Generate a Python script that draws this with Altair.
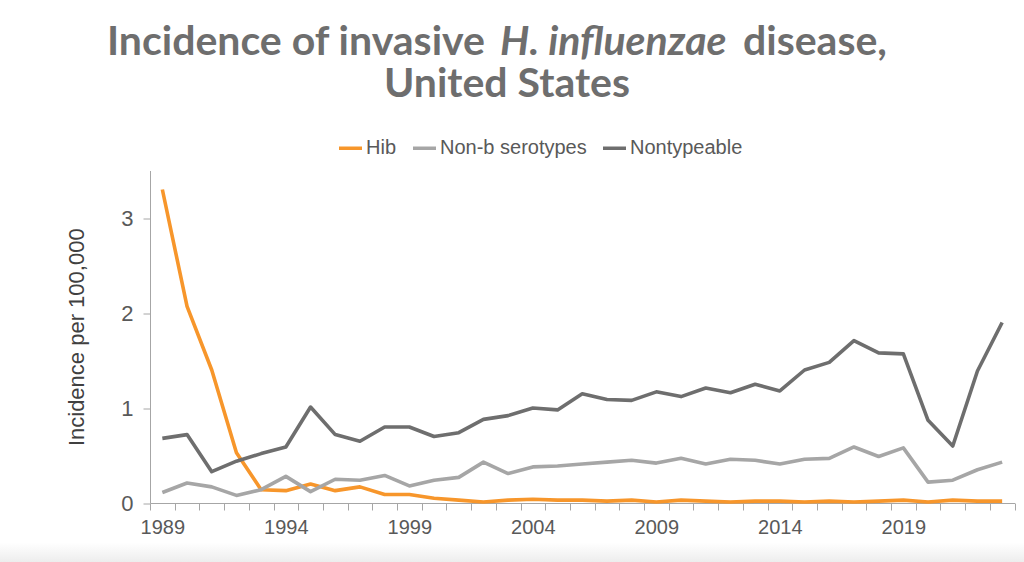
import altair as alt
import pandas as pd

# Incidence per 100,000, United States
years = list(range(1989, 2024))

hib = [3.30, 2.07, 1.40, 0.53, 0.14, 0.13, 0.20, 0.13, 0.17, 0.09,
       0.09, 0.05, 0.03, 0.01, 0.03, 0.04, 0.03, 0.03, 0.02, 0.03,
       0.01, 0.03, 0.02, 0.01, 0.02, 0.02, 0.01, 0.02, 0.01, 0.02,
       0.03, 0.01, 0.03, 0.02, 0.02]

non_b = [0.11, 0.21, 0.17, 0.08, 0.14, 0.28, 0.12, 0.25, 0.24, 0.29,
         0.18, 0.24, 0.27, 0.43, 0.31, 0.38, 0.39, 0.41, 0.43, 0.45,
         0.42, 0.47, 0.41, 0.46, 0.45, 0.41, 0.46, 0.47, 0.59, 0.49,
         0.58, 0.22, 0.24, 0.35, 0.43]

nontypeable = [0.68, 0.72, 0.33, 0.44, 0.52, 0.59, 1.01, 0.72, 0.65, 0.80,
               0.80, 0.70, 0.74, 0.88, 0.92, 1.00, 0.98, 1.15, 1.09, 1.08,
               1.17, 1.12, 1.21, 1.16, 1.25, 1.18, 1.40, 1.48, 1.71, 1.58,
               1.57, 0.87, 0.60, 1.39, 1.90]

series_names = ["Hib", "Non-b serotypes", "Nontypeable"]
series_colors = ["#F7962B", "#A6A6A6", "#6E6E6E"]
label_years = [1989, 1994, 1999, 2004, 2009, 2014, 2019]

rows = []
for name, vals in zip(series_names, [hib, non_b, nontypeable]):
    for yr, v in zip(years, vals):
        rows.append({"year": yr, "incidence": v, "series": name, "k": series_names.index(name)})
df = pd.DataFrame(rows)

W, H = 864.5, 332.5
TEXT = "#6E6E6E"
AXIS = "#A6A6A6"
FONT = "Liberation Sans"
TITLE_FONT = "Lato"

# tick marks sit between the yearly categories; labels at every fifth year
tick_vals = [y - 0.5 for y in years] + [years[-1] + 0.5] + label_years

x_axis = alt.Axis(
    values=tick_vals,
    labelExpr="(datum.value % 1 == 0) ? toString(datum.value) : ''",
    tickOpacity={"condition": {"test": "datum.value % 1 == 0", "value": 0}, "value": 1},
    labelOverlap=False,
    labelFlush=False,
    grid=False,
    title=None,
    domainColor=AXIS,
    tickColor=AXIS,
    tickSize=7,
    labelPadding=7,
    labelFont=FONT,
    labelFontSize=20,
    labelColor="#595959",
)

y_axis = alt.Axis(
    values=[0, 1, 2, 3],
    grid=False,
    title="Incidence per 100,000",
    titleFont=FONT,
    titleFontSize=22,
    titleFontWeight="normal",
    titleColor="#404040",
    titlePadding=32,
    domainColor=AXIS,
    tickColor=AXIS,
    tickSize=7,
    labelPadding=10,
    labelFont=FONT,
    labelFontSize=22,
    labelColor="#595959",
)

lines = alt.Chart(df).mark_line(strokeWidth=3.6, strokeJoin="round").encode(
    x=alt.X("year:Q", scale=alt.Scale(domain=[1988.5, 2023.5], nice=False, zero=False), axis=x_axis),
    y=alt.Y("incidence:Q", scale=alt.Scale(domain=[0, 3.5], nice=False), axis=y_axis),
    color=alt.Color(
        "series:N",
        scale=alt.Scale(domain=series_names, range=series_colors),
        legend=alt.Legend(
            orient="none",
            legendX=187,
            legendY=-36,
            direction="horizontal",
            title=None,
            symbolType="stroke",
            symbolStrokeWidth=3.5,
            symbolSize=530,
            labelFont=FONT,
            labelFontSize=20,
            labelColor="#595959",
            labelOffset=2,
            columnPadding=8,
            padding=0,
        ),
    ),
    order=alt.Order("k:Q"),
)

one = pd.DataFrame({"_": [0]})

def title_piece(text, x, y, align="left", style="normal"):
    return alt.Chart(one).mark_text(
        text=text, align=align, baseline="alphabetic", font=TITLE_FONT,
        fontSize=41, fontWeight="bold", fontStyle=style, color=TEXT,
    ).encode(x=alt.value(x), y=alt.value(y))

title_layers = [
    title_piece("Incidence of invasive", -43, -115.5),
    title_piece("H. influenzae", 350, -115.5, style="italic"),
    title_piece("disease,", 593, -115.5),
    title_piece("United States", 357, -73.5, align="center"),
]

# soft grey band along the bottom edge of the slide
band = alt.Chart(one).mark_rect(
    color=alt.Gradient(
        gradient="linear",
        stops=[alt.GradientStop(color="#FFFFFF", offset=0), alt.GradientStop(color="#EDEDED", offset=1)],
        x1=0, x2=0, y1=0, y2=1,
    )
).encode(x=alt.value(-150), x2=alt.value(874), y=alt.value(372), y2=alt.value(391.5))

chart = alt.layer(band, lines, *title_layers).properties(
    width=W,
    height=H,
    padding={"left": 150, "top": 170.5, "right": 9.5, "bottom": 59},
    autosize=alt.AutoSizeParams(type="none"),
    background="white",
).configure_view(stroke=None)

chart.save("out.html", embed_options={"renderer": "svg", "actions": False})
